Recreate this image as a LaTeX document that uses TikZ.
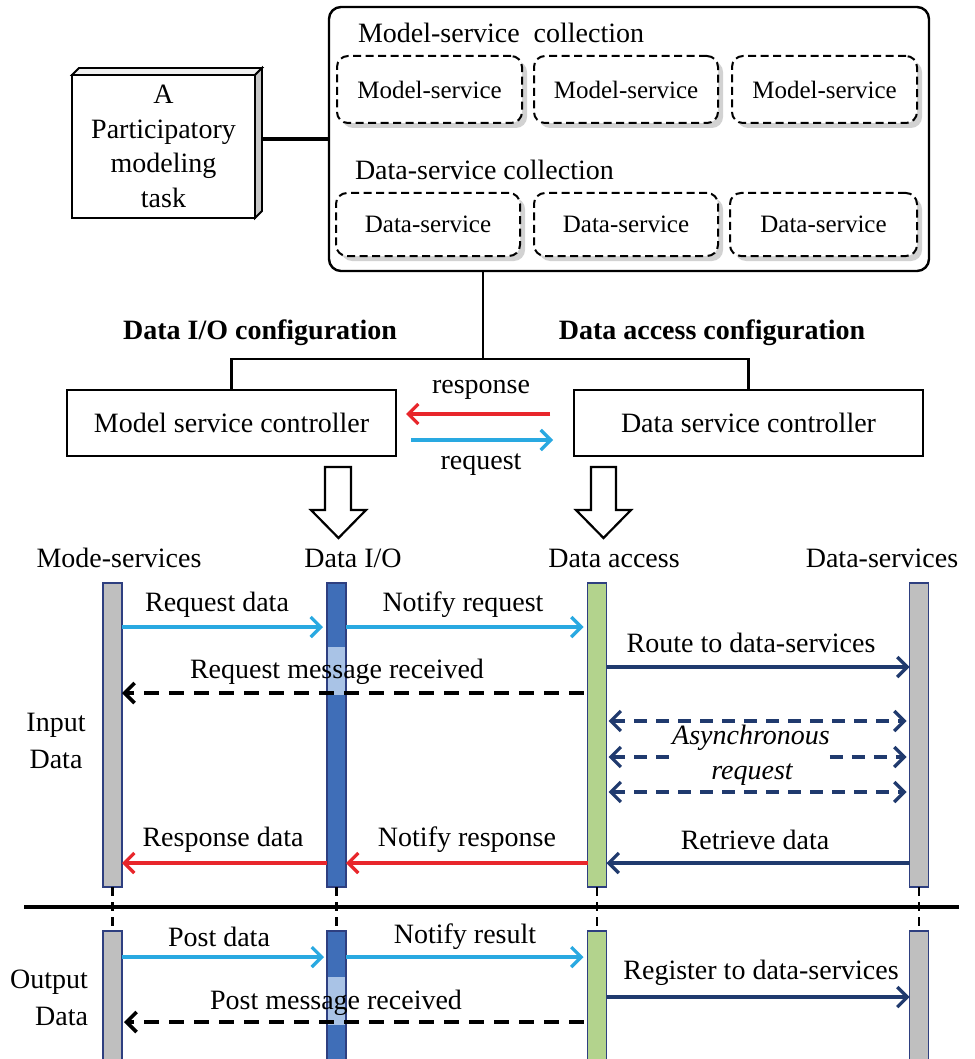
\documentclass[tikz,border=0pt]{standalone}
\usepackage{fontspec}
\setmainfont{Liberation Serif}
\usetikzlibrary{arrows.meta,shadows,calc}
\definecolor{lblue}{HTML}{29A9E1}
\definecolor{myred}{HTML}{E8262B}
\definecolor{navy}{HTML}{203A6E}
\definecolor{barblue}{HTML}{3F6EB8}
\definecolor{hilite}{HTML}{A9C3E6}
\definecolor{bargreen}{HTML}{B3D38D}
\definecolor{bargray}{HTML}{BFBFBF}
\definecolor{barline}{HTML}{2E3F80}
\begin{document}
\begin{tikzpicture}[x=1pt,y=-1pt,
  every node/.style={inner sep=0pt,outer sep=0pt},
  txt/.style={font=\fontsize{28}{34}\selectfont},
  itxt/.style={font=\fontsize{28}{34}\selectfont\itshape},
  hd/.style={font=\fontsize{28}{34}\selectfont\bfseries},
  smalltxt/.style={font=\fontsize{25}{30}\selectfont},
  dbox/.style={draw,line width=2pt,dash pattern=on 8pt off 4.5pt,rounded corners=11pt,fill=white,
    drop shadow={shadow xshift=5pt,shadow yshift=-5pt,fill=black!35},smalltxt},
  plainbox/.style={draw,line width=2pt,txt},
  bar/.style={draw=barline,line width=1.8pt,minimum width=19pt},
  tip/.style={-{Straight Barb[length=10pt,width=20pt]}},
  bluemsg/.style={draw=lblue,line width=3.2pt,tip},
  redmsg/.style={draw=myred,line width=3.2pt,tip},
  navymsg/.style={draw=navy,line width=3.2pt,tip},
  blackdash/.style={draw=black,line width=3.6pt,dash pattern=on 15pt off 10pt,tip},
  navydash/.style={draw=navy,line width=3.2pt,dash pattern=on 13pt off 9pt},
  vdash/.style={draw=black,line width=2.8pt,dash pattern=on 9pt off 6pt},
  tree/.style={draw=black,line width=2.2pt}]
\useasboundingbox (0,0) rectangle (974,1059);
\fill[white] (0,0) rectangle (974,1059);

% ---------- top: task and collections ----------
\node[draw,line width=2.2pt,fill=white,minimum width=183pt,minimum height=143pt,align=center,
  font=\fontsize{28}{34.5}\selectfont] (task) at (163.5,146.5) {A\\Participatory\\modeling\\task};
\draw[line width=1.8pt,fill=gray!12] (task.north west) -- ++(7,-7) -- ++(183,0) -- (task.north east) -- cycle;
\draw[line width=1.8pt,fill=gray!45] (task.north east) -- ++(7,-7) -- ++(0,143) -- (task.south east) -- cycle;

\node[draw,line width=2.4pt,rounded corners=12pt,minimum width=600pt,minimum height=264pt] (coll) at (629,139) {};
\draw[line width=3.8pt] ([xshift=7pt]task.east |- coll.west) -- (coll.west);

\node[txt,anchor=west] (mstitle) at (358,33) {Model-service\ \ collection};
\node[dbox,minimum width=185pt,minimum height=67pt] (ms1) at (429.5,89.5) {Model-service};
\node[dbox,minimum width=184pt,minimum height=67pt] (ms2b) at (626,89.5) {Model-service};
\node[dbox,minimum width=185pt,minimum height=67pt] (ms3) at (824.5,89.5) {Model-service};

\node[txt,anchor=west] (dstitle) at (355,170) {Data-service collection};
\node[dbox,minimum width=184pt,minimum height=63pt] (ds1) at (428,224.5) {Data-service};
\node[dbox,minimum width=184pt,minimum height=63pt] (ds2) at (626,224.5) {Data-service};
\node[dbox,minimum width=187pt,minimum height=63pt] (ds3) at (823.5,224.5) {Data-service};

% ---------- configuration ----------
\node[hd] (hdIO) at (260,333) {Data I/O configuration};
\node[hd] (hdDA) at (712,333) {Data access configuration};

\node[plainbox,minimum width=329pt,minimum height=66pt] (msc) at (231.5,423) {Model service controller};
\node[plainbox,minimum width=349pt,minimum height=66pt] (dsc) at (748.5,423) {Data service controller};

\coordinate (junc) at (483,359);
\draw[tree] (coll.south -| junc) -- (junc);
\draw[tree] (msc.north) |- (junc) -| (dsc.north);

\draw[redmsg,shorten <=24pt,shorten >=10pt] ([yshift=9pt]dsc.west) -- ([yshift=9pt]msc.east);
\draw[bluemsg,shorten <=15pt,shorten >=21pt] ([yshift=-17pt]msc.east) -- ([yshift=-17pt]dsc.west);
\node[txt] (resp) at (481,390) {response};
\node[txt] (reqt) at (481,465) {request};

% hollow block arrows
\draw[line width=2.2pt,fill=white] (325,467) -- (351,467) -- (351,510) -- (366,510) -- (338.5,538) -- (311,510) -- (325,510) -- cycle;
\draw[line width=2.2pt,fill=white] (591,467) -- (616,467) -- (616,510) -- (631,510) -- (603.5,538) -- (576,510) -- (591,510) -- cycle;

% ---------- lifelines ----------
\node[txt] (lMS) at (119,558) {Mode-services};
\node[txt] (lDIO) at (353,558) {Data I/O};
\node[txt] (lDA) at (614,558) {Data access};
\node[txt] (lDS) at (882,558) {Data-services};

\node[bar,fill=bargray,minimum height=304pt] (ms) at (112.5,735) {};
\node[bar,fill=barblue,minimum height=304pt] (dio) at (336.5,735) {};
\node[bar,fill=bargreen,minimum height=304pt] (acc) at (597,735) {};
\node[bar,fill=bargray,minimum height=304pt] (dsv) at (919,735) {};
\fill[hilite] (328,647) rectangle (345,695);

\node[bar,fill=bargray,minimum height=150pt] (msL) at (112.5,1006) {};
\node[bar,fill=barblue,minimum height=150pt] (dioL) at (336.5,1006) {};
\node[bar,fill=bargreen,minimum height=150pt] (accL) at (597,1006) {};
\node[bar,fill=bargray,minimum height=150pt] (dsvL) at (919,1006) {};
\fill[hilite] (328,977) rectangle (345,1025);

\draw[vdash] (ms.south) -- (msL.north);
\draw[vdash] (dio.south) -- (dioL.north);
\draw[vdash] (acc.south) -- (accL.north);
\draw[vdash] (dsv.south) -- (dsvL.north);
\draw[line width=3.4pt] (24,907) -- (959,907);

% ---------- input data messages ----------
\coordinate (r1) at (0,627);
\coordinate (r2) at (0,667);
\coordinate (r3) at (0,693);
\coordinate (a1) at (0,721);
\coordinate (a2) at (0,757);
\coordinate (a3) at (0,792);
\coordinate (r4) at (0,863);

\node[txt] (tReq) at (217,605) {Request data};
\draw[bluemsg,shorten >=4pt] (ms.east |- r1) -- (dio.west |- r1);
\node[txt] (tNReq) at (463,605) {Notify request};
\draw[bluemsg,shorten >=4pt] (dio.east |- r1) -- (acc.west |- r1);
\node[txt] (tRoute) at (751,643) {Route to data-services};
\draw[navymsg] (acc.east |- r2) -- (dsv.west |- r2);
\node[txt] (tRMR) at (337,672) {Request message received};
\draw[blackdash,shorten <=4pt] (acc.west |- r3) -- (ms.east |- r3);

\node[itxt] (asy) at (751,738) {Asynchronous};
\node[itxt] (asy2) at (752,775) {request};
\draw[navydash,{Straight Barb[length=10pt,width=20pt]}-{Straight Barb[length=10pt,width=20pt]},shorten <=2pt,shorten >=3pt] (acc.east |- a1) -- (dsv.west |- a1);
\draw[navydash,{Straight Barb[length=10pt,width=20pt]}-,shorten <=2pt] (acc.east |- a2) -- (asy.west |- a2);
\draw[navydash,-{Straight Barb[length=10pt,width=20pt]},shorten >=3pt] (asy.east |- a2) -- (dsv.west |- a2);
\draw[navydash,{Straight Barb[length=10pt,width=20pt]}-{Straight Barb[length=10pt,width=20pt]},shorten <=2pt,shorten >=3pt] (acc.east |- a3) -- (dsv.west |- a3);

\node[txt] (tRet) at (755,840) {Retrieve data};
\draw[navymsg] (dsv.west |- r4) -- (acc.east |- r4);
\node[txt] (tNRes) at (467,840) {Notify response};
\draw[redmsg] (acc.west |- r4) -- (dio.east |- r4);
\node[txt] (tRes) at (223,840) {Response data};
\draw[redmsg] (dio.west |- r4) -- (ms.east |- r4);

\node[txt,align=center,font=\fontsize{28}{37}\selectfont] (inData) at (56,741) {Input\\Data};

% ---------- output data messages ----------
\coordinate (p1) at (0,957);
\coordinate (p2) at (0,997);
\coordinate (p3) at (0,1022);

\node[txt] (tPost) at (219,937) {Post data};
\draw[bluemsg,shorten >=3pt] (msL.east |- p1) -- (dioL.west |- p1);
\node[txt] (tNRes2) at (465,937) {Notify result};
\draw[bluemsg,shorten >=4pt] (dioL.east |- p1) -- (accL.west |- p1);
\node[txt] (tReg) at (761,973) {Register to data-services};
\draw[navymsg] (accL.east |- p2) -- (dsvL.west |- p2);
\node[txt] (tPMR) at (336,1003) {Post message received};
\draw[blackdash,shorten <=4pt,shorten >=2pt] (accL.west |- p3) -- (msL.east |- p3);

\node[txt,align=right,anchor=east,font=\fontsize{28}{37}\selectfont] (outData) at (88,998) {Output\\Data};
\end{tikzpicture}
\end{document}
